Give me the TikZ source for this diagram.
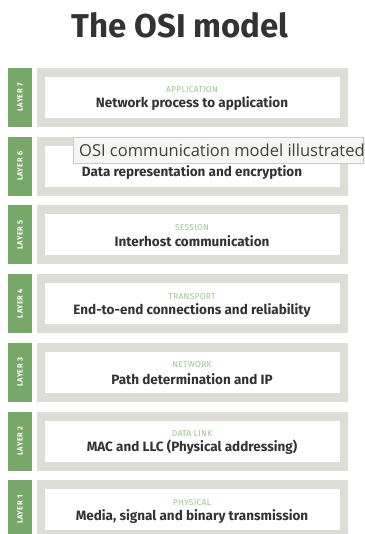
\documentclass[tikz,border=0pt]{standalone}
\usepackage{fontspec}
\setmainfont{Fira Sans}
\newfontfamily\tipfont{Open Sans}
\usetikzlibrary{positioning}
\definecolor{layergreen}{HTML}{78A76A}
\definecolor{labgreen}{HTML}{9EC493}
\definecolor{boxgray}{HTML}{DDDCD7}
\definecolor{textdark}{HTML}{333333}
\definecolor{tipbg}{HTML}{F5F5F3}
\definecolor{tipborder}{HTML}{C9C9C6}
\tikzset{
  greenbar/.style={fill=layergreen, draw=none, minimum width=24pt, minimum height=59pt, inner sep=0pt},
  outerbox/.style={fill=boxgray, draw=none, minimum width=311pt, minimum height=59pt, inner sep=0pt},
  innerbox/.style={fill=white, draw=none, minimum width=295pt, minimum height=41pt, inner sep=0pt},
  layertxt/.style={rotate=90, text=white, font=\fontsize{7.5}{8}\selectfont\bfseries\addfontfeatures{LetterSpace=6}, inner sep=0pt},
  smalllab/.style={text=labgreen, font=\fontsize{8.5}{9}\selectfont\addfontfeatures{LetterSpace=3}, inner sep=0pt},
  mainlab/.style={text=textdark, font=\fontsize{13.5}{15}\selectfont\bfseries, inner sep=0pt},
}
\begin{document}
\begin{tikzpicture}[x=1pt,y=-1pt]
\useasboundingbox (0,0) rectangle (364,534);
\fill[white] (0,0) rectangle (364,534);
\node[text=textdark, font=\fontsize{33}{36}\selectfont\bfseries, inner sep=0pt] (title) at (180,25) {The OSI model};
\foreach \n/\cy/\sm/\mn in {
  7/97.5/APPLICATION/Network process to application,
  6/166.2//Data representation and encryption,
  5/234.9/SESSION/Interhost communication,
  4/303.6/TRANSPORT/End-to-end connections and reliability,
  3/372.3/NETWORK/Path determination and IP,
  2/441/DATA LINK/MAC and LLC (Physical addressing),
  1/509.7/PHYSICAL/{Media, signal and binary transmission}}{
  \node[greenbar] (g\n) at (20,\cy) {};
  \node[layertxt] (gl\n) at (g\n.center) {LAYER \n};
  \node[outerbox] (o\n) at (192.5,\cy) {};
  \node[innerbox] (i\n) at (o\n.center) {};
  \node[smalllab] (s\n) at (192,\cy-7.5) {\sm};
  \node[mainlab] (m\n) at (192,\cy+6.5) {\mn};
}
% tooltip
\fill[black!8] (74.5,138.5) rectangle (364.5,164.5);
\node[fill=tipbg, draw=tipborder, line width=0.6pt, minimum width=290pt, minimum height=26pt, inner sep=0pt, anchor=north west] (tip) at (73,137) {};
\node[anchor=west, text=black!75, font=\tipfont\fontsize{16.5}{18}\selectfont, inner sep=0pt] (tiptext) at (79,150) {OSI communication model illustrated};
\end{tikzpicture}
\end{document}
